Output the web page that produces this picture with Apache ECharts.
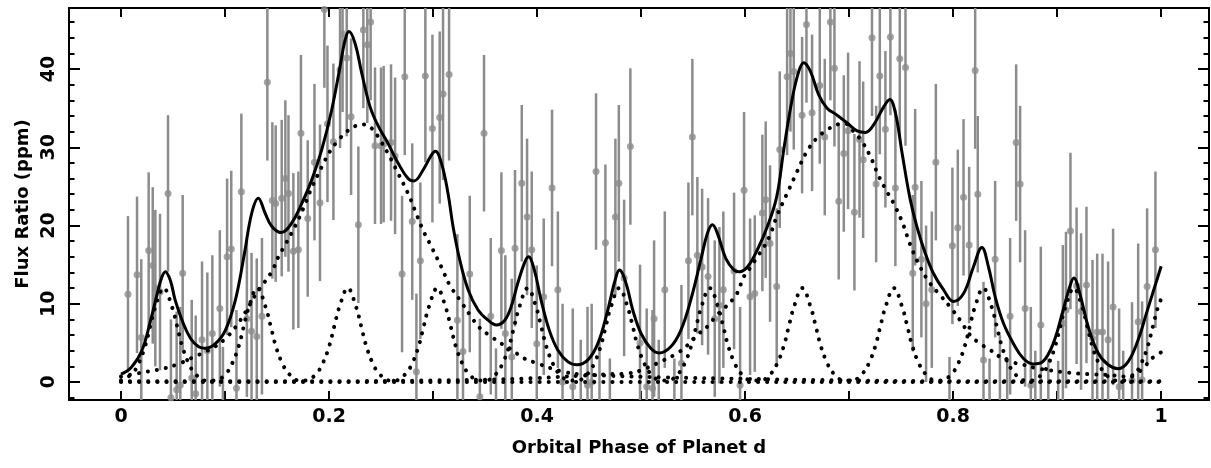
<!DOCTYPE html>
<html>
<head>
<meta charset="utf-8">
<script src="https://cdn.jsdelivr.net/npm/echarts@6/dist/echarts.min.js"></script>
<style>
  html, body { margin: 0; padding: 0; background: #fff; }
  #chart { width: 1211px; height: 468px; }
</style>
</head>
<body>
<div id="chart"></div>
<script>
// ---- Data ----
const xTickValues = [0, 0.1, 0.2, 0.3, 0.4, 0.5, 0.6, 0.7, 0.8, 0.9, 1];
const xLabelValues = [0, 0.2, 0.4, 0.6, 0.8, 1];
const yMajorValues = [0, 10, 20, 30, 40];
const yMinorValues = [-2, 0, 2, 4, 6, 8, 10, 12, 14, 16, 18, 20, 22, 24, 26, 28, 30, 32, 34, 36, 38, 40, 42, 44, 46];

const phases = [
  0.0067, 0.0154, 0.0195, 0.0266, 0.0305, 0.0330, 0.0375, 0.0452, 0.0480, 0.0535,
  0.0570, 0.0593, 0.0680, 0.0718, 0.0779, 0.0830, 0.0878, 0.0950, 0.0980, 0.1020,
  0.1060, 0.1110, 0.1157, 0.1210, 0.1255, 0.1305, 0.1355, 0.1407, 0.1455, 0.1487,
  0.1545, 0.1580, 0.1610, 0.1657, 0.1705, 0.1730, 0.1795, 0.1860, 0.1913, 0.1955,
  0.1985, 0.2042, 0.2106, 0.2130, 0.2170, 0.2212, 0.2282, 0.2330, 0.2368, 0.2400,
  0.2442, 0.2500, 0.2525, 0.2596, 0.2635, 0.2702, 0.2728, 0.2800, 0.2840, 0.2878,
  0.2926, 0.2994, 0.3064, 0.3096, 0.3154, 0.3234, 0.3288, 0.3353, 0.3450, 0.3490,
  0.3555, 0.3605, 0.3657, 0.3695, 0.3757, 0.3788, 0.3853, 0.3904, 0.3949, 0.3997,
  0.4064, 0.4144, 0.4200, 0.4245, 0.4343, 0.4420, 0.4485, 0.4525, 0.4567, 0.4600,
  0.4657, 0.4700, 0.4753, 0.4786, 0.4837, 0.4897, 0.4990, 0.5054, 0.5110, 0.5125,
  0.5170, 0.5228, 0.5320, 0.5388, 0.5455, 0.5493, 0.5541, 0.5587, 0.5644, 0.5708,
  0.5753, 0.5791, 0.5894, 0.5952, 0.5990, 0.6048, 0.6093, 0.6166, 0.6198, 0.6240,
  0.6304, 0.6333, 0.6404, 0.6436, 0.6468, 0.6548, 0.6590, 0.6644, 0.6718, 0.6766,
  0.6820, 0.6859, 0.6900, 0.6949, 0.6990, 0.7051, 0.7100, 0.7135, 0.7220, 0.7260,
  0.7295, 0.7349, 0.7397, 0.7445, 0.7487, 0.7542, 0.7612, 0.7635, 0.7695, 0.7740,
  0.7795, 0.7834, 0.7965, 0.7993, 0.8045, 0.8100, 0.8154, 0.8212, 0.8237, 0.8292,
  0.8350, 0.8404, 0.8450, 0.8520, 0.8548, 0.8606, 0.8644, 0.8692, 0.8747, 0.8790,
  0.8843, 0.8915, 0.9010, 0.9055, 0.9085, 0.9128, 0.9187, 0.9230, 0.9282, 0.9340,
  0.9385, 0.9436, 0.9490, 0.9538, 0.9596, 0.9635, 0.9720, 0.9779, 0.9817, 0.9865,
  0.9945
];
const fluxValues = [
  11.2, 13.7, 5.7, 16.8, 14.9, 12.0, 11.5, 24.1, -2.0, -1.0,
  -0.4, 13.9, 0.5, -1.5, 5.4, 4.0, 6.2, 9.4, -5.5, 16.0,
  17.0, -0.8, 24.3, 8.1, 6.5, 5.8, 8.4, 38.3, 23.2, 22.8,
  23.5, 26.0, 24.1, 16.7, 16.9, 31.8, 20.9, 28.1, 22.9, 47.6,
  33.0, 30.7, 39.9, 44.5, 41.4, 33.9, 20.1, 45.0, 43.1, 46.0,
  30.2, 30.2, 30.4, 30.6, 28.9, 13.8, 39.0, 20.5, 1.3, 15.5,
  39.1, 32.4, 33.8, 36.8, 39.3, 7.9, 3.9, 13.8, -1.9, 31.8,
  8.4, -5.7, 16.8, 6.2, 3.2, 17.1, 25.4, 21.1, 16.9, 4.9,
  10.9, 24.8, 11.8, 0.0, -0.6, -4.6, -0.4, 0.0, 26.9, -4.6,
  17.8, -7.0, 21.1, 25.4, 13.3, 30.1, 5.0, -0.6, -0.8, 8.1,
  -4.6, 11.8, -7.0, 2.4, 15.5, 31.3, 16.2, 14.7, 13.5, 8.1,
  9.8, 11.8, 14.2, -0.4, 24.5, 10.9, 11.3, 21.6, 23.3, 17.7,
  12.2, 29.7, 39.0, 42.0, 39.7, 34.1, 45.7, 34.4, 37.9, 31.3,
  46.0, 40.1, 23.1, 29.2, 32.1, 21.7, 31.0, 28.4, 44.0, 25.3,
  39.1, 32.3, 44.1, 24.8, 41.3, 40.2, 13.9, 24.9, 15.7, 10.0,
  11.8, 28.1, -6.8, 17.4, 19.7, 23.6, 17.5, 39.8, 24.0, 2.8,
  -7.0, 15.7, -4.0, -7.0, 8.4, 30.6, 25.3, 9.4, -0.4, -6.0,
  7.3, -7.0, -7.3, 7.5, 9.2, 19.3, 12.3, 9.0, 12.4, 5.6,
  6.4, 6.4, 5.4, 9.6, -0.6, -6.0, 0.2, 7.7, 0.3, 12.2,
  16.9
];
const fluxErrors = [
  10, 10, 10, 10, 10, 10, 10, 10, 10, 10,
  10, 10, 10, 10, 10, 10, 10, 10, 10, 10,
  10, 10, 10, 10, 10, 10, 10, 10, 10, 10,
  10, 10, 10, 10, 10, 10, 10, 10, 10, 10,
  10, 10, 10, 10, 10, 10, 10, 10, 10, 10,
  10, 10, 10, 10, 10, 10, 10, 10, 10, 10,
  11, 12, 11, 11, 11, 11, 10, 10, 10, 10,
  10, 10, 10, 10, 10, 10, 10, 10, 10, 10,
  10, 10, 10, 10, 10, 10, 10, 10, 10, 10,
  10, 10, 10, 10, 10, 10, 10, 10, 10, 10,
  10, 10, 10, 10, 10, 10, 10, 10, 10, 10,
  10, 10, 10, 10, 10, 10, 10, 10, 10, 10,
  10, 10, 10, 10, 10, 10, 10, 10, 10, 10,
  10, 10, 10, 10, 10, 10, 10, 10, 10, 10,
  10, 10, 10, 10, 10, 10, 10, 10, 10, 10,
  10, 10, 10, 10, 10, 10, 10, 10, 10, 10,
  10, 10, 10, 10, 10, 10, 10, 10, 10, 10,
  10, 10, 10, 10, 10, 10, 10, 10, 10, 10,
  10, 10, 10, 10, 10, 10, 10, 10, 10, 10,
  10
];

const totalModel = [
  [0,1.0],[0.01,1.9],[0.02,4.0],[0.0285,7.9],[0.035,11.4],[0.039,13.3],[0.0426,14.1],[0.0474,13.0],
  [0.052,10.5],[0.0587,7.9],[0.0667,5.6],[0.0747,4.5],[0.081,4.3],[0.0907,4.9],[0.1003,6.6],[0.110,10.5],
  [0.1185,16.3],[0.1257,21.6],[0.132,23.5],[0.1385,21.6],[0.1449,19.9],[0.1538,19.1],[0.164,20.3],[0.1737,22.8],
  [0.1833,25.8],[0.193,29.7],[0.2026,34.8],[0.2106,40.3],[0.2154,43.7],[0.2192,44.8],[0.225,43.3],[0.2314,39.5],
  [0.2394,35.2],[0.247,32.8],[0.2567,30.5],[0.2663,28.0],[0.276,26.0],[0.2817,25.7],[0.2904,27.1],[0.2984,29.0],
  [0.3022,29.5],[0.308,28.0],[0.3144,24.1],[0.3192,19.9],[0.3257,15.6],[0.3337,11.8],[0.3433,9.2],[0.3529,7.9],
  [0.3609,7.3],[0.369,7.9],[0.375,9.6],[0.3814,12.6],[0.3878,15.2],[0.3917,16.0],[0.3974,14.3],[0.4038,10.5],
  [0.4118,6.6],[0.4199,4.1],[0.4295,2.6],[0.4382,2.2],[0.4487,2.8],[0.4584,4.9],[0.468,9.2],[0.475,13.0],
  [0.4792,14.3],[0.4856,12.6],[0.492,9.2],[0.50,6.2],[0.5093,4.3],[0.5173,3.7],[0.5285,4.5],[0.5382,6.6],
  [0.5478,10.5],[0.5574,15.6],[0.5638,19.0],[0.5686,20.1],[0.5734,19.0],[0.5814,15.8],[0.5894,14.3],[0.5942,14.1],
  [0.6022,14.7],[0.6118,16.9],[0.6215,19.9],[0.6304,23.7],[0.6372,29.7],[0.6452,36.1],[0.6516,39.7],[0.6564,40.8],
  [0.6628,39.7],[0.6708,36.7],[0.6788,35.0],[0.6885,34.1],[0.6981,33.1],[0.7077,32.1],[0.7157,31.9],[0.7237,32.9],
  [0.7334,35.2],[0.7391,36.1],[0.7445,34.4],[0.751,29.2],[0.7585,23.5],[0.7651,19.9],[0.7731,16.5],[0.781,13.9],
  [0.7907,11.8],[0.8003,10.3],[0.81,11.3],[0.8195,14.7],[0.8276,17.2],[0.834,14.7],[0.8404,10.9],[0.8484,7.5],
  [0.858,4.9],[0.8676,3.0],[0.8772,2.3],[0.8862,2.6],[0.8962,4.9],[0.9058,9.2],[0.9122,12.2],[0.916,13.3],
  [0.9218,11.3],[0.9298,7.1],[0.9394,3.7],[0.949,2.2],[0.9587,1.7],[0.9683,2.6],[0.9779,5.4],[0.9859,8.8],
  [0.9939,12.2],[1.0,14.8]
];

const broadHump1 = [
  [0,0.7],[0.02,1.2],[0.04,1.7],[0.055,2.3],[0.07,3.2],[0.08,3.8],[0.09,4.5],[0.1,5.5],[0.11,7.0],[0.12,9.0],
  [0.13,11.3],[0.1449,14.1],[0.1513,16.0],[0.1577,17.5],[0.1673,19.9],[0.1753,22.2],[0.1833,24.8],[0.193,27.5],
  [0.201,29.5],[0.209,30.9],[0.217,32.0],[0.225,32.7],[0.2346,32.9],[0.2426,32.2],[0.2487,31.0],[0.2567,29.2],
  [0.2663,26.7],[0.276,24.1],[0.2824,22.0],[0.2904,19.4],[0.2984,17.3],[0.308,14.7],[0.316,12.4],[0.3257,10.5],
  [0.3353,8.6],[0.345,6.9],[0.356,5.8],[0.3657,4.9],[0.3737,4.3],[0.3878,3.0],[0.40,2.4],[0.4135,1.75],
  [0.426,1.3],[0.44,1.0],[0.47,0.8],[0.52,0.6],[0.6,0.4],[0.7,0.2],[0.8,0.1],[1.0,0.1]
];

const broadHump2 = [
  [0,0.1],[0.2,0.1],[0.3,0.2],[0.35,0.3],[0.4,0.5],[0.44,0.8],[0.47,1.0],[0.487,1.1],[0.5,1.5],[0.522,2.8],
  [0.535,3.7],[0.5446,4.7],[0.5558,6.2],[0.5654,7.3],[0.5718,8.4],[0.5798,9.4],[0.5878,10.5],[0.5926,11.4],
  [0.599,13.5],[0.6055,14.7],[0.6118,16.0],[0.6183,17.3],[0.6247,19.0],[0.6308,21.3],[0.6404,24.1],[0.65,26.9],
  [0.6596,29.5],[0.6692,31.2],[0.6788,32.2],[0.6885,32.9],[0.6965,33.0],[0.7045,32.0],[0.7125,30.7],[0.7205,28.8],
  [0.7285,26.3],[0.7365,24.3],[0.7445,22.4],[0.7526,19.9],[0.7583,17.7],[0.7683,14.7],[0.7779,12.6],[0.7875,11.1],
  [0.7971,9.6],[0.8067,7.9],[0.8163,6.0],[0.826,4.9],[0.8356,4.1],[0.8452,3.2],[0.8548,2.6],[0.8676,2.2],
  [0.8805,1.75],[0.893,1.5],[0.91,1.2],[0.93,1.0],[0.95,0.9],[0.965,0.7],[0.975,1.0],[0.983,1.8],[0.991,3.0],[1.0,3.8]
];

const narrowPeaks = [
  [0,0.2],[0.011,1.1],[0.017,2.4],[0.023,4.5],[0.028,7.1],[0.033,9.6],[0.041,12.0],[0.049,9.6],[0.054,7.1],[0.059,4.5],[0.065,2.4],[0.071,1.1],[0.081,0.2],
  [0.091,0.2],[0.101,1.1],[0.107,2.4],[0.113,4.5],[0.118,7.1],[0.123,9.6],[0.131,12.0],[0.139,9.6],[0.144,7.1],[0.149,4.5],[0.155,2.4],[0.161,1.1],[0.171,0.2],
  [0.178,0.2],[0.188,1.1],[0.194,2.4],[0.200,4.5],[0.205,7.1],[0.210,9.6],[0.218,12.0],[0.226,9.6],[0.231,7.1],[0.236,4.5],[0.242,2.4],[0.248,1.1],[0.258,0.2],
  [0.264,0.2],[0.274,1.1],[0.280,2.4],[0.286,4.5],[0.291,7.1],[0.296,9.6],[0.304,12.0],[0.312,9.6],[0.317,7.1],[0.322,4.5],[0.328,2.4],[0.334,1.1],[0.344,0.2],
  [0.351,0.2],[0.361,1.1],[0.367,2.4],[0.373,4.5],[0.378,7.1],[0.383,9.6],[0.391,12.0],[0.399,9.6],[0.404,7.1],[0.409,4.5],[0.415,2.4],[0.421,1.1],[0.431,0.2],
  [0.439,0.2],[0.449,1.1],[0.455,2.4],[0.461,4.5],[0.466,7.1],[0.471,9.6],[0.479,12.0],[0.487,9.6],[0.492,7.1],[0.497,4.5],[0.503,2.4],[0.509,1.1],[0.519,0.2],
  [0.526,0.2],[0.536,1.1],[0.542,2.4],[0.548,4.5],[0.553,7.1],[0.558,9.6],[0.566,12.0],[0.574,9.6],[0.579,7.1],[0.584,4.5],[0.590,2.4],[0.596,1.1],[0.606,0.2],
  [0.615,0.2],[0.625,1.1],[0.631,2.4],[0.637,4.5],[0.642,7.1],[0.647,9.6],[0.655,12.0],[0.663,9.6],[0.668,7.1],[0.673,4.5],[0.679,2.4],[0.685,1.1],[0.695,0.2],
  [0.703,0.2],[0.713,1.1],[0.719,2.4],[0.725,4.5],[0.730,7.1],[0.735,9.6],[0.743,12.0],[0.751,9.6],[0.756,7.1],[0.761,4.5],[0.767,2.4],[0.773,1.1],[0.783,0.2],
  [0.789,0.2],[0.799,1.1],[0.805,2.4],[0.811,4.5],[0.816,7.1],[0.821,9.6],[0.829,12.0],[0.837,9.6],[0.842,7.1],[0.847,4.5],[0.853,2.4],[0.859,1.1],[0.869,0.2],
  [0.876,0.2],[0.886,1.1],[0.892,2.4],[0.898,4.5],[0.903,7.1],[0.908,9.6],[0.916,12.0],[0.924,9.6],[0.929,7.1],[0.934,4.5],[0.940,2.4],[0.946,1.1],[0.956,0.2],
  [0.965,0.2],[0.975,1.1],[0.981,2.4],[0.987,4.5],[0.992,7.1],[0.997,9.6],[1.0,10.6]
];

const baseline = [[0,0],[1,0]];

// ---- Chart ----
const X_MIN = -0.05, X_MAX = 1.046, Y_MIN = -2.3, Y_MAX = 47.8;
const FONT = 'DejaVu Sans';
const GRAY = '#8c8c8c';

const pointData = phases.map((p, i) => [p, fluxValues[i], fluxErrors[i]]);

function xAxisCfg(pos, showLabels) {
  return {
    type: 'value', position: pos, min: X_MIN, max: X_MAX,
    axisLine: { show: true, onZero: false, lineStyle: { color: '#000', width: 2 } },
    axisTick: { show: true, inside: true, length: 9, customValues: xTickValues, lineStyle: { color: '#000', width: 2 } },
    axisLabel: showLabels ? {
      show: true, customValues: xLabelValues, margin: 8, color: '#000',
      fontFamily: FONT, fontWeight: 'bold', fontSize: 19
    } : { show: false },
    splitLine: { show: false },
    name: showLabels ? 'Orbital Phase of Planet d' : '',
    nameLocation: 'middle', nameGap: 39,
    nameTextStyle: { color: '#000', fontFamily: FONT, fontWeight: 'bold', fontSize: 18 }
  };
}
function yAxisCfg(pos, values, len, showLine, showLabels) {
  return {
    type: 'value', position: pos, min: Y_MIN, max: Y_MAX,
    axisLine: { show: showLine, onZero: false, lineStyle: { color: '#000', width: 2 } },
    axisTick: { show: true, inside: true, length: len, customValues: values, lineStyle: { color: '#000', width: 2 } },
    axisLabel: showLabels ? {
      show: true, customValues: yMajorValues, rotate: 90, margin: 10, color: '#000',
      fontFamily: FONT, fontWeight: 'bold', fontSize: 19
    } : { show: false },
    splitLine: { show: false },
    name: showLabels ? 'Flux Ratio (ppm)' : '',
    nameLocation: 'middle', nameGap: 34, nameRotate: 90,
    nameTextStyle: { color: '#000', fontFamily: FONT, fontWeight: 'bold', fontSize: 18 }
  };
}

const dotted = { color: '#000', width: 4, type: [0.1, 9], cap: 'round' };

const chart = echarts.init(document.getElementById('chart'), null, { renderer: 'canvas' });
chart.setOption({
  animation: false,
  backgroundColor: '#fff',
  grid: { left: 69, right: 2, top: 8, bottom: 68, containLabel: false },
  xAxis: [xAxisCfg('bottom', true), xAxisCfg('top', false)],
  yAxis: [
    yAxisCfg('left', yMajorValues, 11, true, true),
    yAxisCfg('left', yMinorValues, 5.5, false, false),
    yAxisCfg('right', yMajorValues, 11, true, false),
    yAxisCfg('right', yMinorValues, 5.5, false, false)
  ],
  series: [
    {
      name: 'errors', type: 'custom', xAxisIndex: 0, yAxisIndex: 0, z: 1,
      data: pointData,
      renderItem: function (params, api) {
        const x = api.value(0), y = api.value(1), e = api.value(2);
        const top = api.coord([x, y + e]);
        const bot = api.coord([x, y - e]);
        const cs = params.coordSys;
        const y1 = Math.max(cs.y, Math.min(cs.y + cs.height, top[1]));
        const y2 = Math.max(cs.y, Math.min(cs.y + cs.height, bot[1]));
        return {
          type: 'line',
          shape: { x1: top[0], y1: y1, x2: bot[0], y2: y2 },
          style: { stroke: GRAY, lineWidth: 2.5 }
        };
      }
    },
    {
      name: 'points', type: 'scatter', xAxisIndex: 0, yAxisIndex: 0, z: 2,
      data: pointData.map(d => [d[0], d[1]]),
      symbol: 'circle', symbolSize: 7, clip: true,
      itemStyle: { color: GRAY }
    },
    { name: 'baseline', type: 'line', data: baseline, showSymbol: false, lineStyle: dotted, z: 3 },
    { name: 'hump1', type: 'line', data: broadHump1, smooth: 0.4, showSymbol: false, lineStyle: dotted, z: 3 },
    { name: 'hump2', type: 'line', data: broadHump2, smooth: 0.4, showSymbol: false, lineStyle: dotted, z: 3 },
    { name: 'peaks', type: 'line', data: narrowPeaks, smooth: 0.4, showSymbol: false, lineStyle: dotted, z: 3 },
    { name: 'total', type: 'line', data: totalModel, smooth: 0.4, showSymbol: false,
      lineStyle: { color: '#000', width: 3 }, z: 4 }
  ]
});
</script>
</body>
</html>
